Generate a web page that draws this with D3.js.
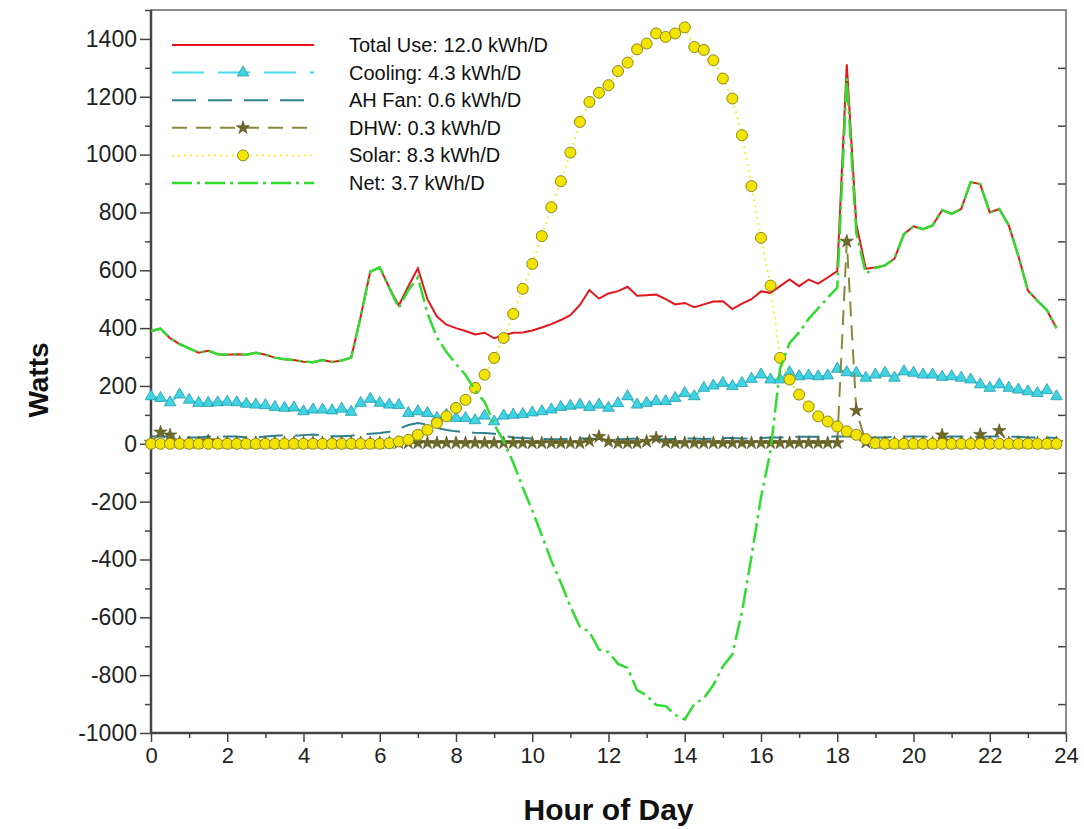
<!DOCTYPE html>
<html>
<head>
<meta charset="UTF-8" />
<title>Hourly Power Use</title>
<script src="https://d3js.org/d3.v7.min.js"></script>
<style>
    body { margin: 0; background: white; }
    /* tick labels */
    .axis text { font-family: "Liberation Sans", Arial, sans-serif; font-size: 22px; fill: #222; }
    .yaxis text { font-size: 23px; }
    .axis path { display: none; }
    .axis line { stroke: #444; stroke-width: 1.5; }
    .title { font-family: "Liberation Sans Narrow", "Liberation Sans", Arial, sans-serif; font-weight: bold; fill: #111; }
    .legend text { font-family: "Liberation Sans", Arial, sans-serif; font-size: 20px; fill: #111; }
</style>
</head>
<body>
<svg width="1084" height="829"></svg>
<script>
// quarter hour readings, 0:00 to 23:45
var hours = [0, 0.25, 0.5, 0.75, 1, 1.25, 1.5, 1.75, 2, 2.25, 2.5, 2.75,
    3, 3.25, 3.5, 3.75, 4, 4.25, 4.5, 4.75, 5, 5.25, 5.5, 5.75,
    6, 6.25, 6.5, 6.75, 7, 7.25, 7.5, 7.75, 8, 8.25, 8.5, 8.75,
    9, 9.25, 9.5, 9.75, 10, 10.25, 10.5, 10.75, 11, 11.25, 11.5, 11.75,
    12, 12.25, 12.5, 12.75, 13, 13.25, 13.5, 13.75, 14, 14.25, 14.5, 14.75,
    15, 15.25, 15.5, 15.75, 16, 16.25, 16.5, 16.75, 17, 17.25, 17.5, 17.75,
    18, 18.25, 18.5, 18.75, 19, 19.25, 19.5, 19.75, 20, 20.25, 20.5, 20.75,
    21, 21.25, 21.5, 21.75, 22, 22.25, 22.5, 22.75, 23, 23.25, 23.5, 23.75];

var totalUse = [390, 398, 365, 345, 330, 315, 322, 310, 308, 310, 308, 315,
    308, 298, 292, 290, 284, 282, 290, 283, 288, 298, 440, 595,
    610, 540, 478, 545, 607, 500, 440, 412, 400, 390, 378, 384,
    365, 375, 384, 385, 392, 402, 414, 428, 445, 480, 532, 502,
    520, 528, 543, 512, 514, 516, 500, 482, 487, 472, 482, 492,
    493, 466, 485, 500, 527, 522, 545, 568, 545, 568, 554, 575,
    597, 1312, 760, 605, 610, 617, 640, 725, 752, 742, 755, 808,
    795, 812, 905, 898, 800, 812, 755, 650, 530, 495, 462, 400];

var cooling = [164, 158, 143, 170, 152, 141, 141, 143, 145, 143, 138, 135,
    133, 127, 124, 125, 112, 118, 118, 115, 121, 110, 141, 155,
    141, 135, 134, 106, 112, 106, 89, 100, 89, 89, 81, 97,
    77, 97, 100, 102, 108, 112, 118, 127, 131, 135, 127, 135,
    124, 140, 164, 135, 141, 147, 147, 158, 175, 164, 193, 201,
    210, 199, 210, 224, 239, 222, 222, 247, 233, 236, 233, 236,
    259, 247, 245, 228, 239, 245, 228, 250, 245, 239, 239, 231,
    233, 228, 222, 205, 193, 205, 193, 187, 181, 175, 185, 164];

var ahFan = [25, 25, 25, 22, 22, 22, 25, 25, 25, 25, 22, 22,
    25, 28, 30, 28, 30, 32, 30, 26, 26, 28, 32, 35,
    37, 42, 52, 65, 72, 66, 55, 48, 43, 40, 38, 37,
    35, 28, 22, 20, 18, 17, 16, 16, 17, 18, 18, 17,
    16, 16, 17, 18, 17, 16, 16, 17, 18, 18, 17, 18,
    20, 20, 18, 18, 20, 22, 22, 24, 24, 24, 24, 25,
    25, 25, 24, 22, 22, 22, 24, 25, 25, 25, 24, 24,
    25, 25, 24, 24, 25, 25, 24, 24, 22, 22, 22, 20];

var dhw = [5, 40, 30, 5, 3, 3, 10, 3, 3, 3, 3, 3,
    3, 3, 3, 3, 3, 3, 3, 3, 3, 3, 3, 3,
    3, 3, 3, 3, 3, 3, 3, 3, 3, 3, 3, 3,
    3, 3, 3, 3, 3, 3, 3, 3, 3, 3, 10, 25,
    8, 3, 3, 3, 8, 20, 5, 3, 3, 3, 3, 3,
    3, 3, 3, 3, 3, 3, 3, 3, 3, 3, 3, 3,
    3, 700, 115, 5, 3, 3, 3, 3, 3, 3, 3, 30,
    3, 3, 3, 32, 3, 45, 3, 3, 3, 3, 3, 3];

var solar = [0, 0, 0, 0, 0, 0, 0, 0, 0, 0, 0, 0,
    0, 0, 0, 0, 0, 0, 0, 0, 0, 0, 0, 0,
    0, 2, 8, 14, 31, 48, 72, 95, 124, 152, 193, 239,
    297, 366, 449, 536, 622, 718, 818, 908, 1007, 1113, 1182, 1214,
    1240, 1289, 1318, 1364, 1384, 1419, 1407, 1419, 1440, 1372, 1362, 1326,
    1263, 1194, 1067, 891, 712, 547, 297, 222, 170, 129, 95, 77,
    60, 43, 31, 16, 2, 0, 0, 0, 0, 0, 0, 0,
    0, 0, 0, 0, 0, 0, 0, 0, 0, 0, 0, 0];

var net = [390, 398, 365, 345, 330, 315, 322, 310, 308, 310, 308, 315,
    308, 298, 292, 290, 284, 282, 290, 283, 288, 298, 440, 595,
    610, 538, 470, 531, 576, 452, 368, 317, 276, 238, 185, 145,
    68, 9, -65, -151, -230, -316, -404, -480, -562, -633, -650, -712,
    -720, -761, -775, -852, -870, -903, -907, -937, -953, -900, -880, -834,
    -770, -728, -582, -391, -185, -25, 260, 349, 385, 432, 468, 505,
    540, 1265, 729, 589, 608, 617, 640, 725, 752, 742, 755, 808,
    795, 812, 905, 898, 800, 812, 755, 650, 530, 495, 462, 400];

var legendLabels = ["Total Use: 12.0 kWh/D", "Cooling: 4.3 kWh/D", "AH Fan: 0.6 kWh/D",
    "DHW: 0.3 kWh/D", "Solar: 8.3 kWh/D", "Net: 3.7 kWh/D"];

var yMajorTicks = [-1000, -800, -600, -400, -200, 0, 200, 400, 600, 800, 1000, 1200, 1400];
var yMinorTicks = [-900, -700, -500, -300, -100, 100, 300, 500, 700, 900, 1100, 1300, 1500];
var xMajorTicks = [0, 2, 4, 6, 8, 10, 12, 14, 16, 18, 20, 22, 24];
var xMinorTicks = [1, 3, 5, 7, 9, 11, 13, 15, 17, 19, 21, 23];

// drawing styles for each series, same order as legend
var series = [
    { values: totalUse, color: "#e3161c", width: 2, dash: null, marker: null },
    { values: cooling, color: "#45dcee", width: 2, dash: "32,14", marker: "triangle", fill: "#3fd3e3", edge: "#229aa8" },
    { values: ahFan, color: "#2c7f8c", width: 2, dash: "24,12", marker: null },
    { values: dhw, color: "#8c873a", width: 2, dash: "15,9", marker: "star", fill: "#6f6a28", edge: "#4f4a18" },
    { values: solar, color: "#f6f03a", width: 2, dash: "2,4", marker: "circle", fill: "#f3e400", edge: "#8c861c" },
    { values: net, color: "#2fdc2f", width: 2.5, dash: "20,5,3,5", marker: null }
];

var margin = { left: 151, right: 18, top: 10, bottom: 96 };
var svg = d3.select("svg"),
    width = +svg.attr("width") - margin.left - margin.right,
    height = +svg.attr("height") - margin.top - margin.bottom;

var xScale = d3.scaleLinear().domain([0, 24]).range([0, width]);
var yScale = d3.scaleLinear().domain([-1000, 1500]).range([height, 0]);

// plain numbers, ascii minus, no thousands comma
var plain = function (d) { return String(d); };

var g = svg.append("g").attr("transform", "translate(" + margin.left + "," + margin.top + ")");

// y axis, majors with labels and minors without
g.append("g").attr("class", "axis yaxis")
    .call(d3.axisLeft(yScale).tickValues(yMajorTicks).tickSize(11).tickPadding(3).tickFormat(plain));
g.append("g").attr("class", "axis")
    .call(d3.axisLeft(yScale).tickValues(yMinorTicks).tickSize(6).tickFormat(""));
// unlabeled ticks on the right edge, pointing in
g.append("g").attr("class", "axis").attr("transform", "translate(" + width + ",0)")
    .call(d3.axisLeft(yScale).tickValues(yMinorTicks.slice(0, 12)).tickSize(8).tickFormat(""));

// x axis
g.append("g").attr("class", "axis").attr("transform", "translate(0," + height + ")")
    .call(d3.axisBottom(xScale).tickValues(xMajorTicks).tickSize(9).tickPadding(5).tickFormat(plain));
g.append("g").attr("class", "axis").attr("transform", "translate(0," + height + ")")
    .call(d3.axisBottom(xScale).tickValues(xMinorTicks).tickSize(5).tickFormat(""));

// frame
g.append("rect").attr("width", width).attr("height", height)
    .attr("fill", "none").attr("stroke", "#666").attr("stroke-width", 1.5);
g.append("line").attr("x1", 0).attr("x2", 0).attr("y1", 0).attr("y2", height)
    .attr("stroke", "#444").attr("stroke-width", 2.5);
g.append("line").attr("x1", 0).attr("x2", width).attr("y1", height).attr("y2", height)
    .attr("stroke", "#444").attr("stroke-width", 2.5);

function drawMarker(sel, s) {
    if (s.marker == "circle") {
        sel.append("circle").attr("r", 5.5)
            .attr("fill", s.fill).attr("stroke", s.edge).attr("stroke-width", 1);
    } else if (s.marker == "triangle") {
        sel.append("path").attr("d", d3.symbol(d3.symbolTriangle).size(58)())
            .attr("fill", s.fill).attr("stroke", s.edge).attr("stroke-width", 0.8);
    } else if (s.marker == "star") {
        sel.append("path").attr("d", d3.symbol(d3.symbolStar).size(55)())
            .attr("fill", s.fill).attr("stroke", s.edge).attr("stroke-width", 0.6);
    }
}

series.forEach(function (s) {
    var line = d3.line()
        .x(function (d, i) { return xScale(hours[i]); })
        .y(function (d) { return yScale(d); });

    g.append("path")
        .attr("fill", "none")
        .attr("stroke", s.color)
        .attr("stroke-width", s.width)
        .attr("stroke-dasharray", s.dash)
        .attr("d", line(s.values));

    if (s.marker) {
        g.append("g").selectAll("g").data(s.values)
            .enter().append("g")
            .attr("transform", function (d, i) { return "translate(" + xScale(hours[i]) + "," + yScale(d) + ")"; })
            .each(function () { drawMarker(d3.select(this), s); });
    }
});

// legend
var legend = svg.append("g").attr("class", "legend");
series.forEach(function (s, i) {
    var y = 45 + i * 27.6;
    legend.append("line")
        .attr("x1", 172).attr("x2", 314).attr("y1", y).attr("y2", y)
        .attr("stroke", s.color).attr("stroke-width", s.width)
        .attr("stroke-dasharray", s.dash);
    if (s.marker) {
        drawMarker(legend.append("g").attr("transform", "translate(243," + y + ")"), s);
    }
    legend.append("text").attr("x", 349).attr("y", y + 7).text(legendLabels[i]);
});

// axis titles
svg.append("text").attr("class", "title")
    .attr("transform", "translate(48,380) rotate(-90)")
    .attr("text-anchor", "middle").style("font-size", "28px")
    .text("Watts");
svg.append("text").attr("class", "title")
    .attr("x", margin.left + width / 2).attr("y", 820)
    .attr("text-anchor", "middle").style("font-size", "30px")
    .text("Hour of Day");
</script>
</body>
</html>
